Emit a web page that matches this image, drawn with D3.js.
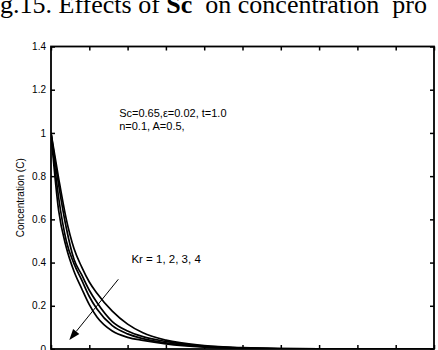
<!DOCTYPE html>
<html><head><meta charset="utf-8">
<script src="https://cdn.jsdelivr.net/npm/d3@7"></script>
<style>html,body{margin:0;padding:0;background:#fff;overflow:hidden}</style>
</head><body>
<svg id="c" width="438" height="350"></svg>
<script>
// ---- data ----
const xs = [0, 0.1, 0.2, 0.3, 0.4, 0.5, 0.6, 0.8, 1.0, 1.2, 1.5, 2.0, 2.5, 3.0, 4.0, 5.0];
const krLabels = ["Kr=1", "Kr=2", "Kr=3", "Kr=4"];
const kr1 = [1, 0.79, 0.60, 0.465, 0.38, 0.31, 0.258, 0.175, 0.115, 0.075, 0.041, 0.016, 0.006, 0.002, 0, 0];
const kr2 = [1, 0.76, 0.56, 0.415, 0.344, 0.272, 0.215, 0.127, 0.083, 0.057, 0.035, 0.013, 0.005, 0.002, 0, 0];
const kr3 = [1, 0.70, 0.50, 0.395, 0.32, 0.243, 0.185, 0.108, 0.070, 0.048, 0.028, 0.011, 0.004, 0.001, 0, 0];
const kr4 = [1, 0.64, 0.47, 0.36, 0.28, 0.205, 0.148, 0.083, 0.054, 0.040, 0.024, 0.009, 0.003, 0.001, 0, 0];
const xTicks = [0, 0.5, 1, 1.5, 2, 2.5, 3, 3.5, 4, 4.5, 5];
const xTickLabels = ["0","0.5","1","1.5","2","2.5","3","3.5","4","4.5","5"];
const yTicks = [0, 0.2, 0.4, 0.6, 0.8, 1, 1.2, 1.4];
const yTickLabels = ["0","0.2","0.4","0.6","0.8","1","1.2","1.4"];
const titleParts = [["g.15. Effects of ", "normal"], ["Sc", "bold"], ["  on concentration  pro", "normal"]];
const yLabel = "Concentration (C)";
const note1 = "Sc=0.65,\u03b5=0.02, t=1.0";
const note2 = "n=0.1, A=0.5,";
const krNote = "Kr = 1, 2, 3, 4";

const series = [kr1, kr2, kr3, kr4];

// ---- layout ----
const svg = d3.select("#c");
const L = 51, R = 434, T = 46.5, B = 349;
const x = d3.scaleLinear().domain([0, 5]).range([L, R]);
const y = d3.scaleLinear().domain([0, 1.4]).range([B, T]);
const sans = "'Liberation Sans', Arial, sans-serif";

// title (cropped at top, as in the reference)
const title = svg.append("text").attr("x", 0).attr("y", 13)
  .attr("font-family", "'Liberation Serif', 'Times New Roman', serif")
  .attr("font-size", 26).attr("fill", "#000").attr("xml:space", "preserve")
  .style("white-space", "pre");
titleParts.forEach(p => title.append("tspan").attr("font-weight", p[1]).text(p[0]));

// curves
svg.append("clipPath").attr("id", "pc").append("rect")
  .attr("x", L).attr("y", T).attr("width", R - L).attr("height", B - T);
const line = d3.line().x((d, i) => x(xs[i])).y(d => y(d)).curve(d3.curveMonotoneX);
svg.append("g").attr("clip-path", "url(#pc)").selectAll("path").data(series).join("path")
  .attr("d", d => line(d)).attr("fill", "none").attr("stroke", "#000").attr("stroke-width", 1.7);

// axes (MATLAB box, inward ticks)
const tl = 4;
const axB = svg.append("g").attr("transform", `translate(0,${B})`)
  .call(d3.axisBottom(x).tickValues(xTicks).tickFormat((d, i) => xTickLabels[i]).tickSize(-tl).tickPadding(6));
const axT = svg.append("g").attr("transform", `translate(0,${T})`)
  .call(d3.axisTop(x).tickValues(xTicks).tickFormat("").tickSize(-tl));
const axL = svg.append("g").attr("transform", `translate(${L},0)`)
  .call(d3.axisLeft(y).tickValues(yTicks).tickFormat((d, i) => yTickLabels[i]).tickSize(-tl).tickPadding(5));
const axR = svg.append("g").attr("transform", `translate(${R},0)`)
  .call(d3.axisRight(y).tickValues(yTicks).tickFormat("").tickSize(-tl));
[axB, axT, axL, axR].forEach(a => {
  a.select(".domain").remove();
  a.selectAll(".tick line").attr("stroke", "#000").attr("stroke-width", 1.5);
  a.selectAll("text").attr("font-family", sans).attr("font-size", 10).attr("fill", "#000");
});
svg.append("rect").attr("x", L).attr("y", T).attr("width", R - L).attr("height", B - T)
  .attr("fill", "none").attr("stroke", "#000").attr("stroke-width", 1.8);

// y label
svg.append("text").attr("transform", `translate(23.5,${(T + B) / 2}) rotate(-90)`)
  .attr("text-anchor", "middle").attr("font-family", sans).attr("font-size", 10).text(yLabel);

// annotations
svg.append("text").attr("x", x(0.89)).attr("y", y(1.072)).attr("font-family", sans).attr("font-size", 11).text(note1);
svg.append("text").attr("x", x(0.89)).attr("y", y(1.012)).attr("font-family", sans).attr("font-size", 11).text(note2);
svg.append("text").attr("x", x(1.05)).attr("y", y(0.397)).attr("font-family", sans).attr("font-size", 11.5).text(krNote);

// arrow
const x1 = x(0.879), y1 = y(0.3226), x2 = x(0.239), y2 = y(0.0417);
const ang = Math.atan2(y2 - y1, x2 - x1);
const hl = 11, hw = 4;
const bx = x2 - hl * Math.cos(ang), by = y2 - hl * Math.sin(ang);
svg.append("line").attr("x1", x1).attr("y1", y1).attr("x2", bx).attr("y2", by)
  .attr("stroke", "#000").attr("stroke-width", 1);
svg.append("path").attr("d",
  `M${x2},${y2}L${bx + hw * Math.sin(ang)},${by - hw * Math.cos(ang)}L${bx - hw * Math.sin(ang)},${by + hw * Math.cos(ang)}Z`)
  .attr("fill", "#000");
</script>
</body></html>
